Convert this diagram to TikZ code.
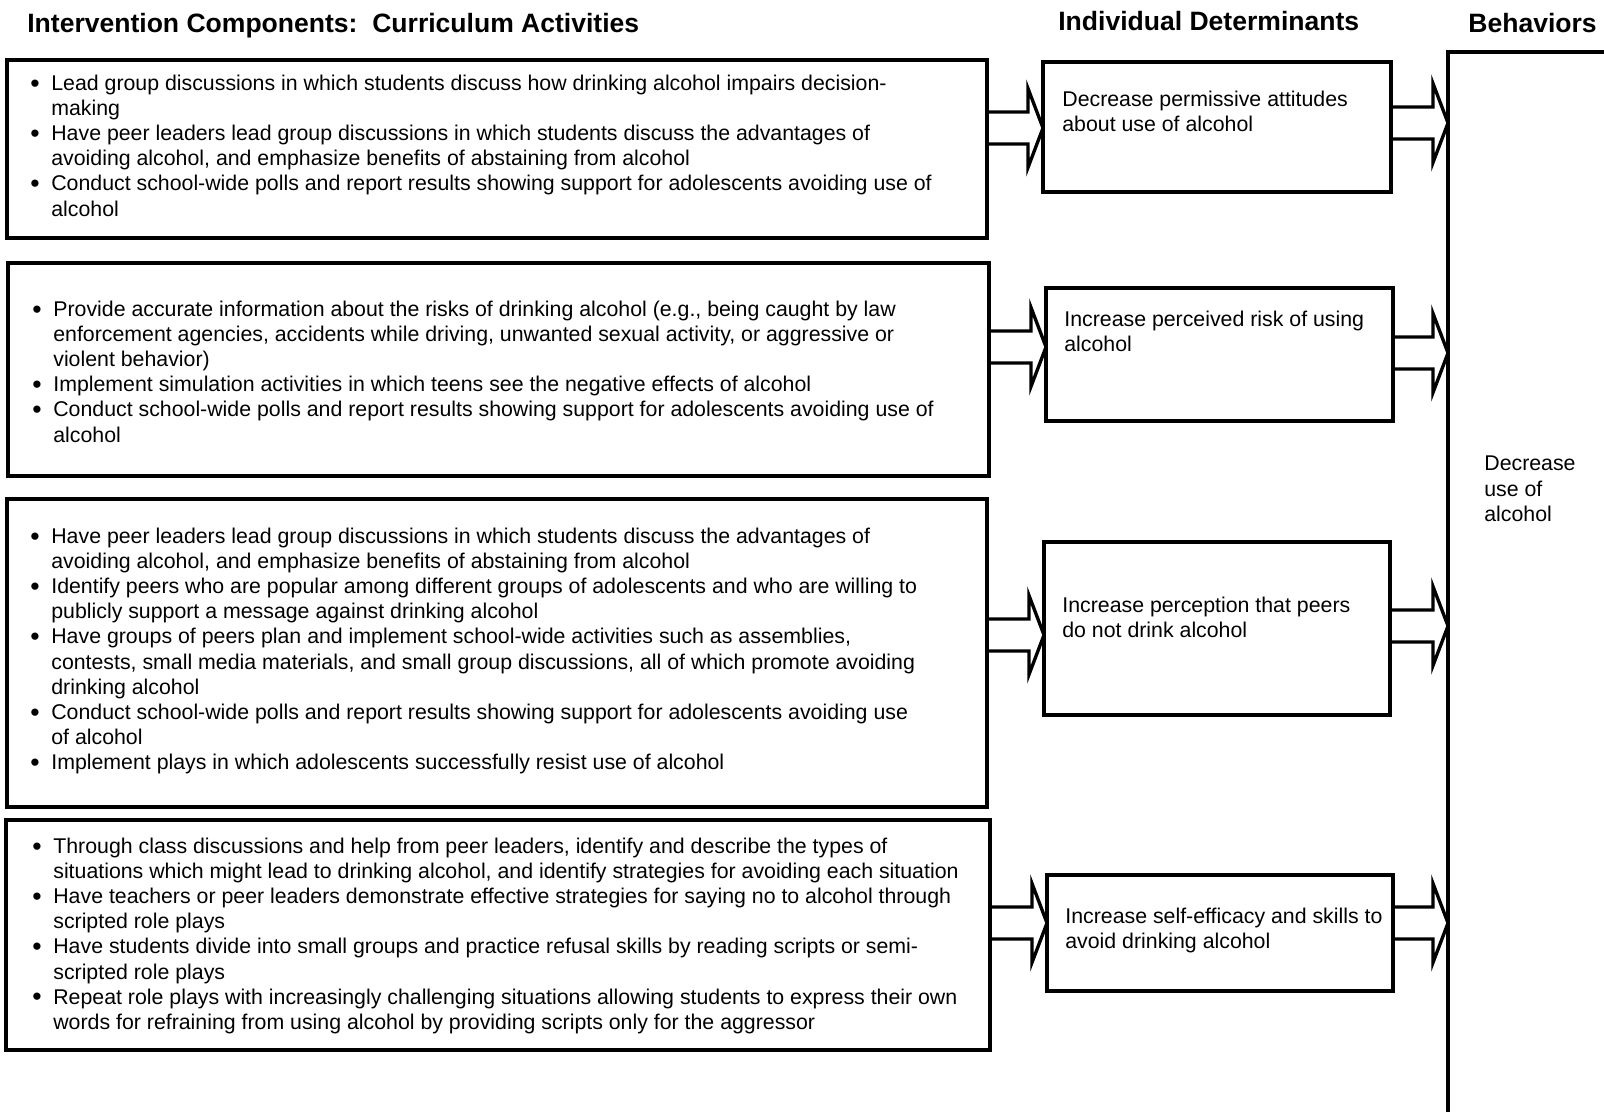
\documentclass[tikz,border=0pt]{standalone}
\usepackage{fontspec}
\setmainfont{Liberation Sans}
\usetikzlibrary{calc}

\newcommand{\bodyfont}{\fontsize{12.13pt}{14.3pt}\selectfont}
\newcommand{\headfont}{\fontsize{15.1pt}{17pt}\selectfont\bfseries}
\newcommand{\bul}{\makebox[0.42cm][l]{\raisebox{-0.08em}{\scalebox{1.25}{\textbullet}}}}

% open block arrow: tail on a box edge (#1), tip at (#2)
\newcommand{\blockarrow}[2]{%
	\draw[blockarr] ($(#1)+(0,0.32)$) -- ($(#2)+(-0.3,0.32)$) -- ($(#2)+(-0.3,0.79)$) -- (#2)
	-- ($(#2)+(-0.3,-0.79)$) -- ($(#2)+(-0.3,-0.32)$) -- ($(#1)+(0,-0.32)$);}

\tikzset{
	actbox/.style={draw, line width=2.2pt, outer sep=0pt, inner sep=0pt},
	detbox/.style={draw, line width=1.9pt, outer sep=0pt, inner sep=0pt},
	bodytext/.style={inner sep=0pt, anchor=north west, font=\bodyfont},
	headtext/.style={inner sep=0pt, anchor=base west, font=\headfont},
	blockarr/.style={line width=1.9pt, line join=miter},
}

\begin{document}
\begin{tikzpicture}
			\useasboundingbox (0,0) rectangle (32.08,22.24);
			% ---------- column heads ----------
			\node[headtext] (hact) at (0.54,21.58) {Intervention Components:\ \ Curriculum Activities};
			\node[headtext] (hdet) at (21.16,21.62) {Individual Determinants};
			\node[headtext] (hbeh) at (29.36,21.58) {Behaviors};
			% ---------- activity boxes ----------
			\node[actbox, minimum width=19.6cm, minimum height=3.56cm] (l1) at (9.94,19.26) {};
			\node[actbox, minimum width=19.62cm, minimum height=4.26cm] (l2) at (9.97,14.85) {};
			\node[actbox, minimum width=19.6cm, minimum height=6.16cm] (l3) at (9.94,9.18) {};
			\node[actbox, minimum width=19.68cm, minimum height=4.6cm] (l4) at (9.96,3.54) {};
			\node[bodytext] (l1t) at (0.6,20.79) {%
				\begin{tabular}{@{}l@{}l@{}}
					\bul & Lead group discussions in which students discuss how drinking alcohol impairs decision-\\
					& making\\
					\bul & Have peer leaders lead group discussions in which students discuss the advantages of\\
					& avoiding alcohol, and emphasize benefits of abstaining from alcohol\\
					\bul & Conduct school-wide polls and report results showing support for adolescents avoiding use of\\
					& alcohol
			\end{tabular}};
			\node[bodytext] (l2t) at (0.64,16.27) {%
				\begin{tabular}{@{}l@{}l@{}}
					\bul & Provide accurate information about the risks of drinking alcohol (e.g., being caught by law\\
					& enforcement agencies, accidents while driving, unwanted sexual activity, or aggressive or\\
					& violent behavior)\\
					\bul & Implement simulation activities in which teens see the negative effects of alcohol\\
					\bul & Conduct school-wide polls and report results showing support for adolescents avoiding use of\\
					& alcohol
			\end{tabular}};
			\node[bodytext] (l3t) at (0.6,11.73) {%
				\begin{tabular}{@{}l@{}l@{}}
					\bul & Have peer leaders lead group discussions in which students discuss the advantages of\\
					& avoiding alcohol, and emphasize benefits of abstaining from alcohol\\
					\bul & Identify peers who are popular among different groups of adolescents and who are willing to\\
					& publicly support a message against drinking alcohol\\
					\bul & Have groups of peers plan and implement school-wide activities such as assemblies,\\
					& contests, small media materials, and small group discussions, all of which promote avoiding\\
					& drinking alcohol\\
					\bul & Conduct school-wide polls and report results showing support for adolescents avoiding use\\
					& of alcohol\\
					\bul & Implement plays in which adolescents successfully resist use of alcohol
			\end{tabular}};
			\node[bodytext] (l4t) at (0.64,5.53) {%
				\begin{tabular}{@{}l@{}l@{}}
					\bul & Through class discussions and help from peer leaders, identify and describe the types of\\
					& situations which might lead to drinking alcohol, and identify strategies for avoiding each situation\\
					\bul & Have teachers or peer leaders demonstrate effective strategies for saying no to alcohol through\\
					& scripted role plays\\
					\bul & Have students divide into small groups and practice refusal skills by reading scripts or semi-\\
					& scripted role plays\\
					\bul & Repeat role plays with increasingly challenging situations allowing students to express their own\\
					& words for refraining from using alcohol by providing scripts only for the aggressor
			\end{tabular}};
			% ---------- determinant boxes ----------
			\node[detbox, minimum width=6.96cm, minimum height=2.6cm] (d1) at (24.34,19.7) {};
			\node[detbox, minimum width=6.94cm, minimum height=2.66cm] (d2) at (24.39,15.15) {};
			\node[detbox, minimum width=6.92cm, minimum height=3.46cm] (d3) at (24.34,9.67) {};
			\node[detbox, minimum width=6.92cm, minimum height=2.32cm] (d4) at (24.4,3.58) {};
			\node[bodytext] (d1t) at ($(d1.north west)+(0.38,-0.53)$) {%
				\begin{tabular}{@{}l@{}}Decrease permissive attitudes\\ about use of alcohol\end{tabular}};
			\node[bodytext] (d2t) at ($(d2.north west)+(0.36,-0.41)$) {%
				\begin{tabular}{@{}l@{}}Increase perceived risk of using\\ alcohol\end{tabular}};
			\node[bodytext] (d3t) at ($(d3.north west)+(0.36,-1.05)$) {%
				\begin{tabular}{@{}l@{}}Increase perception that peers\\ do not drink alcohol\end{tabular}};
			\node[bodytext] (d4t) at ($(d4.north west)+(0.36,-0.61)$) {%
				\begin{tabular}{@{}l@{}}Increase self-efficacy and skills to\\ avoid drinking alcohol\end{tabular}};
			% ---------- behaviours box, open to the right and below ----------
			\coordinate (beh) at (28.96,21.2);
			\draw[line width=1.9pt] (28.96,0) -- (beh) -- (32.08,21.2);
			\node[bodytext] (beht) at (29.68,13.18) {%
				\begin{tabular}{@{}l@{}}Decrease\\ use of\\ alcohol\end{tabular}};
			% ---------- block arrows ----------
			\foreach \i/\din/\dout in {1/-0.02/0.08, 2/0.15/0.03, 3/-0.13/0.05, 4/0.2/0.2}
			{
				\coordinate (a\i) at ($(d\i.west)+(0,\din)$);
				\coordinate (b\i) at ($(d\i.east -| beh)+(0,\dout)$);
				\blockarrow{l\i.east |- a\i}{a\i}
				\blockarrow{d\i.east |- b\i}{b\i}
			}
\end{tikzpicture}
\end{document}
